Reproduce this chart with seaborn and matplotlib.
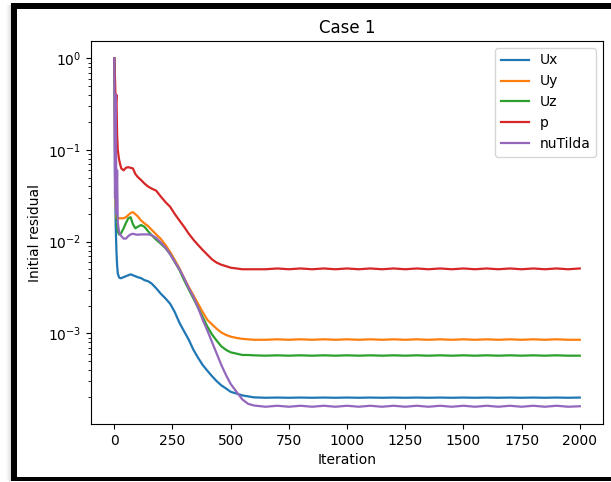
import numpy as np
import pandas as pd
import matplotlib
matplotlib.use("Agg")
import matplotlib.pyplot as plt
from matplotlib.patches import Rectangle
import seaborn as sns

iterations = [0, 3, 6, 9, 12, 15, 20, 25, 30, 40, 50, 60, 70, 80, 90, 100, 115, 130, 145,
              160, 180, 200, 220, 240, 260, 280, 300, 320, 340, 360, 380, 400, 420, 440, 460,
              480, 500, 525, 550, 575, 600, 650, 700, 750, 800, 850, 900, 950, 1000, 1050,
              1100, 1150, 1200, 1250, 1300, 1350, 1400, 1450, 1500, 1550, 1600, 1650, 1700,
              1750, 1800, 1850, 1900, 1950, 2000]

Ux = [1.0, 0.05, 0.015, 0.008, 0.0055, 0.0045, 0.0041, 0.0040, 0.0040, 0.0041, 0.0042, 0.0043,
      0.0044, 0.0043, 0.0042, 0.0041, 0.0040, 0.0038, 0.0037, 0.0035, 0.0031, 0.0027, 0.0024,
      0.0021, 0.0017, 0.0013, 0.00105, 0.00085, 0.00066, 0.00054, 0.00045, 0.00039, 0.00034,
      0.00030, 0.00027, 0.00025, 0.00023, 0.00022, 0.00021, 0.000205, 0.0002,
      0.000198, 0.000199, 0.000198, 0.000199, 0.000198, 0.000199, 0.000198, 0.000199, 0.000198,
      0.000199, 0.000198, 0.000199, 0.000198, 0.000199, 0.000198, 0.000199, 0.000198, 0.000199,
      0.000198, 0.000199, 0.000198, 0.000199, 0.000198, 0.000199, 0.000198, 0.000199, 0.000198,
      0.000199]

Uy = [1.0, 0.1, 0.025, 0.018, 0.018, 0.018, 0.018, 0.018, 0.018, 0.018, 0.0185, 0.0195, 0.0205,
      0.021, 0.020, 0.019, 0.017, 0.0158, 0.0148, 0.0135, 0.012, 0.0107, 0.0092, 0.0077, 0.0063,
      0.0051, 0.0040, 0.0032, 0.0026, 0.0021, 0.0017, 0.0014, 0.00125, 0.00112, 0.00102,
      0.00096, 0.00092, 0.00089, 0.00087, 0.00086, 0.00085,
      0.00085, 0.00086, 0.00085, 0.00086, 0.00085, 0.00086, 0.00085, 0.00086, 0.00085,
      0.00086, 0.00085, 0.00086, 0.00085, 0.00086, 0.00085, 0.00086, 0.00085, 0.00086,
      0.00085, 0.00086, 0.00085, 0.00086, 0.00085, 0.00086, 0.00085, 0.00086, 0.00085,
      0.00085]

Uz = [1.0, 0.25, 0.06, 0.025, 0.015, 0.013, 0.012, 0.012, 0.0125, 0.014, 0.016, 0.018, 0.0185,
      0.0155, 0.014, 0.0145, 0.0152, 0.0145, 0.013, 0.0118, 0.0105, 0.0095, 0.0085, 0.0073,
      0.0060, 0.0049, 0.0038, 0.0030, 0.0024, 0.0019, 0.0015, 0.00118, 0.00097, 0.00083,
      0.00072, 0.00066, 0.00062, 0.0006, 0.00058, 0.00058, 0.000575,
      0.00057, 0.000575, 0.00057, 0.000575, 0.00057, 0.000575, 0.00057, 0.000575, 0.00057,
      0.000575, 0.00057, 0.000575, 0.00057, 0.000575, 0.00057, 0.000575, 0.00057, 0.000575,
      0.00057, 0.000575, 0.00057, 0.000575, 0.00057, 0.000575, 0.00057, 0.000575, 0.00057,
      0.00057]

p = [1.0, 0.6, 0.3, 0.4, 0.15, 0.1, 0.08, 0.07, 0.063, 0.06, 0.064, 0.065, 0.064, 0.063, 0.055,
     0.051, 0.047, 0.043, 0.040, 0.038, 0.036, 0.031, 0.027, 0.024, 0.020, 0.017, 0.0145,
     0.0122, 0.0105, 0.0092, 0.0081, 0.0072, 0.0064, 0.0059, 0.0056, 0.0054, 0.0052, 0.0051,
     0.0050, 0.0050, 0.0050,
     0.0050, 0.0051, 0.0050, 0.0051, 0.0050, 0.0051, 0.0050, 0.0051, 0.0050,
     0.0051, 0.0050, 0.0051, 0.0050, 0.0051, 0.0050, 0.0051, 0.0050, 0.0051,
     0.0050, 0.0051, 0.0050, 0.0051, 0.0050, 0.0051, 0.0050, 0.0051, 0.0050,
     0.0051]

nuTilda = [1.0, 0.03, 0.4, 0.02, 0.06, 0.016, 0.013, 0.012, 0.0115, 0.0108, 0.0108, 0.0115,
           0.012, 0.0122, 0.012, 0.0119, 0.012, 0.012, 0.012, 0.0118, 0.011, 0.0098, 0.0086,
           0.0073, 0.0060, 0.0050, 0.0040, 0.0031, 0.0025, 0.0019, 0.0014, 0.00107, 0.00080,
           0.00060, 0.00045, 0.00035, 0.00028, 0.00023, 0.00019, 0.00017, 0.000163,
           0.000158, 0.000162, 0.000158, 0.000162, 0.000158, 0.000162, 0.000158, 0.000162,
           0.000158, 0.000162, 0.000158, 0.000162, 0.000158, 0.000162, 0.000158, 0.000162,
           0.000158, 0.000162, 0.000158, 0.000162, 0.000158, 0.000162, 0.000158, 0.000162,
           0.000158, 0.000162, 0.000158, 0.000160]

series_names = ["Ux", "Uy", "Uz", "p", "nuTilda"]
series_values = [Ux, Uy, Uz, p, nuTilda]

frames = []
for name, vals in zip(series_names, series_values):
    frames.append(pd.DataFrame({"Iteration": iterations, "residual": vals, "field": name}))
df = pd.concat(frames, ignore_index=True)

plt.rcParams["font.family"] = ["DejaVu Sans"]
fig = plt.figure(figsize=(6.11, 4.82), dpi=100)
ax = fig.add_axes([0.149, 0.120, 0.838, 0.795])

palette = dict(zip(series_names, sns.color_palette("tab10", 5)))
sns.lineplot(data=df, x="Iteration", y="residual", hue="field", hue_order=series_names,
             palette=palette, estimator=None, linewidth=1.6, ax=ax)
ax.set_yscale("log")
ax.set_xticks([0, 250, 500, 750, 1000, 1250, 1500, 1750, 2000])
ax.set_xlim(-100, 2100)
ax.set_ylabel("Initial residual")
ax.set_xlabel("Iteration")
ax.set_title("Case 1", fontsize=12)
handles, labels = ax.get_legend_handles_labels()
ax.legend(handles, labels, loc="upper right")

# outer frame (screenshot border) with soft shadow on the left
shades = ["#fafafa", "#f5f5f5", "#efefef", "#e8e8e8", "#dddddd"]
for i, c in enumerate(shades):
    x0 = 6 + i
    fig.add_artist(Rectangle((x0 / 611, 1 - 481 / 482), 1 / 611, 476 / 482,
                             transform=fig.transFigure, facecolor=c, edgecolor="none"))
fig.add_artist(Rectangle((11 / 611, 1 - 481 / 482), 6 / 611, 478 / 482,
                         transform=fig.transFigure, facecolor="black", edgecolor="none"))
fig.add_artist(Rectangle((11 / 611, 1 - 9 / 482), 600 / 611, 6 / 482,
                         transform=fig.transFigure, facecolor="black", edgecolor="none"))
fig.add_artist(Rectangle((11 / 611, 1 - 481 / 482), 600 / 611, 4 / 482,
                         transform=fig.transFigure, facecolor="black", edgecolor="none"))

fig.savefig("out.png", dpi=100)
